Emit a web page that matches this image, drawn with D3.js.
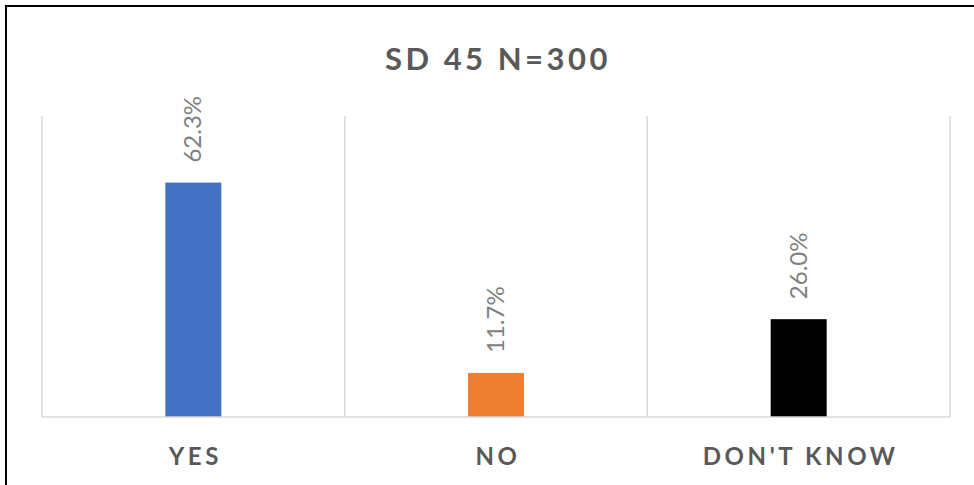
<!DOCTYPE html>
<html>
<head>
<meta charset="utf-8">
<script src="https://cdn.jsdelivr.net/npm/d3@7"></script>
<style>
  html, body { margin: 0; padding: 0; background: #fff; }
  svg { display: block; }
</style>
</head>
<body>
<svg id="chart" width="974" height="485"></svg>
<script>
const categories = ["YES", "NO", "DON'T KNOW"];
const values = [62.3, 11.7, 26.0];
const labels = ["62.3%", "11.7%", "26.0%"];
const barColors = ["#4472C4", "#ED7D31", "#000000"];
const title = "SD 45 N=300";
const yMax = 80;

const W = 974, H = 485;
const svg = d3.select("#chart");
const margin = { left: 42, right: 24, top: 116, bottom: 68 };
const plotW = W - margin.left - margin.right; // 908
const plotH = H - margin.top - margin.bottom;

// outer border
svg.append("rect")
  .attr("x", 6).attr("y", 6)
  .attr("width", W + 10).attr("height", H + 10)
  .attr("fill", "none").attr("stroke", "#000").attr("stroke-width", 2);

svg.append("text")
  .attr("x", margin.left + plotW / 2 + 2)
  .attr("y", 70)
  .attr("text-anchor", "middle")
  .attr("font-family", "Lato, 'Open Sans', sans-serif")
  .attr("font-weight", "bold")
  .attr("font-size", 31)
  .attr("letter-spacing", 3.5)
  .attr("fill", "#595959")
  .text(title);

const g = svg.append("g").attr("transform", `translate(${margin.left},${margin.top})`);

const x = d3.scaleBand().domain(categories).range([0, plotW]).paddingInner(0).paddingOuter(0);
const y = d3.scaleLinear().domain([0, yMax]).range([plotH, 0]);

// vertical gridlines at category boundaries
const bounds = categories.map(c => x(c)).concat([plotW]);
g.selectAll("line.grid").data(bounds).enter().append("line")
  .attr("class", "grid")
  .attr("x1", d => d).attr("x2", d => d)
  .attr("y1", 0).attr("y2", plotH)
  .attr("stroke", "#d9d9d9").attr("stroke-width", 1.5);

const barW = 56;
g.selectAll("rect.bar").data(values).enter().append("rect")
  .attr("class", "bar")
  .attr("x", (d, i) => x(categories[i]) + x.bandwidth() / 2 - barW / 2)
  .attr("y", d => y(d))
  .attr("width", barW)
  .attr("height", d => plotH - y(d))
  .attr("fill", (d, i) => barColors[i]);

// baseline
g.append("line")
  .attr("x1", 0).attr("x2", plotW)
  .attr("y1", plotH).attr("y2", plotH)
  .attr("stroke", "#d9d9d9").attr("stroke-width", 1.5);

// data labels rotated
g.selectAll("text.lbl").data(values).enter().append("text")
  .attr("class", "lbl")
  .attr("transform", (d, i) => `translate(${x(categories[i]) + x.bandwidth() / 2 + 8},${y(d) - 20}) rotate(-90)`)
  .attr("text-anchor", "start")
  .attr("font-family", "Lato, 'Open Sans', sans-serif")
  .attr("font-size", 24)
  .attr("fill", "#808080")
  .text((d, i) => labels[i]);

// category axis labels
g.selectAll("text.cat").data(categories).enter().append("text")
  .attr("class", "cat")
  .attr("x", d => x(d) + x.bandwidth() / 2 + 2)
  .attr("y", plotH + 48)
  .attr("text-anchor", "middle")
  .attr("font-family", "Lato, 'Open Sans', sans-serif")
  .attr("font-weight", "bold")
  .attr("font-size", 24)
  .attr("letter-spacing", 3.6)
  .attr("fill", "#595959")
  .text(d => d);
</script>
</body>
</html>
